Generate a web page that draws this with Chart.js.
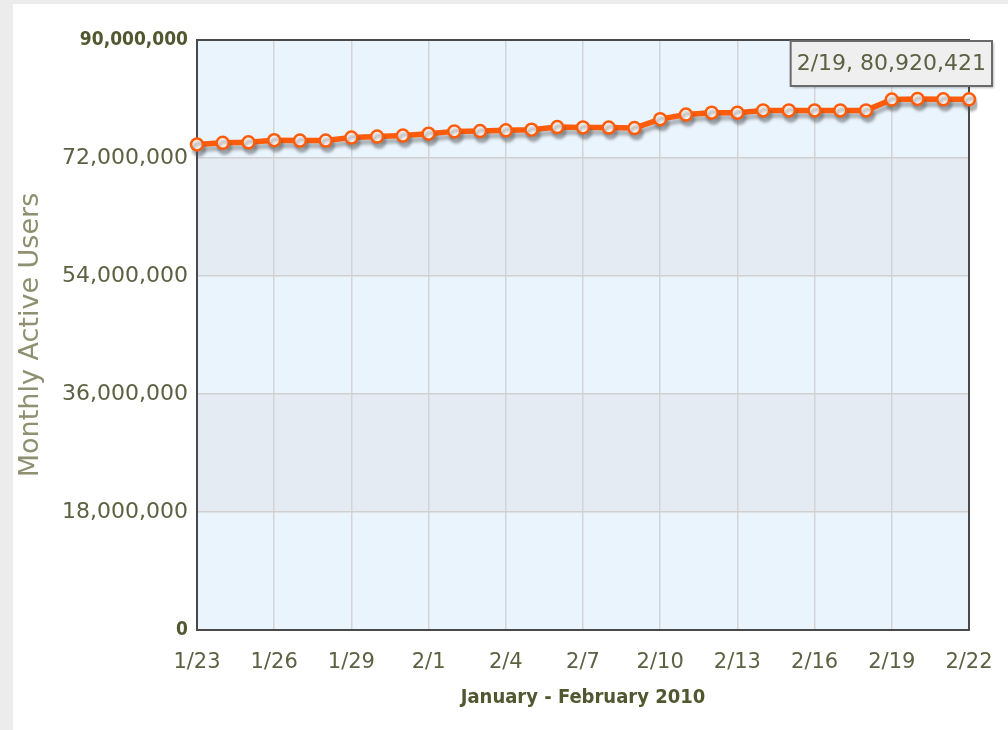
<!DOCTYPE html>
<html>
<head>
<meta charset="utf-8">
<script src="https://cdn.jsdelivr.net/npm/chart.js@4/dist/chart.umd.min.js"></script>
<style>
  body { margin: 0; background: #ececec; }
  #wrap { position: absolute; left: 13px; top: 4px; width: 995px; height: 726px; background: #fff; }
</style>
</head>
<body>
<div id="wrap"><canvas id="chart"></canvas></div>
<script>
/* datos */
const categories = ['1/23','1/24','1/25','1/26','1/27','1/28','1/29','1/30','1/31',
  '2/1','2/2','2/3','2/4','2/5','2/6','2/7','2/8','2/9','2/10','2/11','2/12',
  '2/13','2/14','2/15','2/16','2/17','2/18','2/19','2/20','2/21','2/22']
const activeUsers = [74060000, 74310000, 74390000, 74710000, 74660000, 74660000, 75120000,
  75270000, 75420000, 75700000, 76060000, 76110000, 76220000, 76310000, 76720000,
  76670000, 76640000, 76570000, 77930000, 78620000, 78920000, 78920000, 79260000,
  79260000, 79260000, 79260000, 79260000, 80920421, 81010000, 80950000, 80950000]
const xTickLabels = ['1/23','1/26','1/29','2/1','2/4','2/7','2/10','2/13','2/16','2/19','2/22']
const yTicks = [0, 18000000, 36000000, 54000000, 72000000, 90000000]
const tooltipIndex = 27

const olive = '#5d6142'
const oliveDark = '#51572f'
const naranja = '#ff5c0a'

/* franjas alternadas del fondo */
const bandas = {
  id: 'bandas',
  beforeDraw(chart) {
    const { ctx, chartArea: a, scales: { y } } = chart
    for (let i = 0; i < yTicks.length - 1; i++) {
      const top = y.getPixelForValue(yTicks[i + 1])
      const bottom = y.getPixelForValue(yTicks[i])
      ctx.fillStyle = (yTicks.length - 2 - i) % 2 === 0 ? '#eaf4fd' : '#e4ebf3'
      ctx.fillRect(a.left, top, a.right - a.left, bottom - top)
    }
  }
}

/* marco y sombra de la linea */
const marco = {
  id: 'marco',
  beforeDatasetsDraw(chart) {
    const { ctx, chartArea: a } = chart
    ctx.save()
    ctx.strokeStyle = '#4a4a4a'
    ctx.lineWidth = 2
    ctx.strokeRect(a.left, a.top, a.right - a.left, a.bottom - a.top)
    ctx.restore()
  },
  beforeDatasetDraw(chart) {
    const ctx = chart.ctx
    ctx.save()
    ctx.shadowColor = 'rgba(80,80,80,0.4)'
    ctx.shadowOffsetX = 2
    ctx.shadowOffsetY = 5
    ctx.shadowBlur = 3
  },
  afterDatasetDraw(chart) {
    chart.ctx.restore()
  }
}

/* cuadro fijo con el valor del 2/19 */
const etiqueta = {
  id: 'etiqueta',
  afterDraw(chart) {
    const { ctx, chartArea: a } = chart
    const texto = `${categories[tooltipIndex]}, ${activeUsers[tooltipIndex].toLocaleString('en-US')}`
    ctx.save()
    ctx.font = '22px "DejaVu Sans"'
    const w = ctx.measureText(texto).width + 12
    const h = 45
    const x = a.right + 23 - w
    const y = a.top + 1
    ctx.shadowColor = 'rgba(0,0,0,0.25)'
    ctx.shadowOffsetX = 2
    ctx.shadowOffsetY = 2
    ctx.shadowBlur = 2
    ctx.fillStyle = '#efefef'
    ctx.fillRect(x, y, w, h)
    ctx.shadowColor = 'transparent'
    ctx.strokeStyle = '#6a6a6a'
    ctx.lineWidth = 2
    ctx.strokeRect(x, y, w, h)
    ctx.fillStyle = olive
    ctx.textBaseline = 'middle'
    ctx.fillText(texto, x + 6, y + h / 2 + 1)
    ctx.restore()
  }
}

const data = {
  labels: categories,
  datasets: [{
    data: activeUsers,
    borderColor: naranja,
    borderWidth: 5.5,
    tension: 0,
    pointRadius: 6,
    pointBorderWidth: 2.5,
    pointBackgroundColor: '#f2efed',
    pointBorderColor: naranja
  }]
}

const config = {
  type: 'line',
  data: data,
  plugins: [bandas, marco, etiqueta],
  options: {
    responsive: true,
    maintainAspectRatio: false,
    animation: false,
    events: [],
    layout: { padding: { left: 0, right: 39, top: 36, bottom: 0 } },
    plugins: { legend: { display: false }, tooltip: { enabled: false } },
    scales: {
      x: {
        border: { display: false },
        grid: { color: '#d4d4d4', lineWidth: 1.5, drawTicks: false },
        ticks: {
          autoSkip: false,
          maxRotation: 0,
          padding: 20,
          color: olive,
          font: { family: '"DejaVu Sans"', size: 21 },
          callback: (v, i) => xTickLabels.includes(categories[i]) ? categories[i] : null
        },
        title: {
          display: true,
          text: 'January - February 2010',
          color: oliveDark,
          font: { family: '"DejaVu Sans Condensed", "DejaVu Sans"', size: 20, weight: 'bold' },
          padding: { top: 0, bottom: 20 }
        },
        afterFit: (s) => {
          s.height = 100
          s.paddingLeft = 0
          s.paddingRight = 0
        }
      },
      y: {
        min: yTicks[0],
        max: yTicks[yTicks.length - 1],
        border: { display: false },
        grid: { color: '#d0d0d0', lineWidth: 1.5, drawTicks: false },
        ticks: {
          stepSize: yTicks[1] - yTicks[0],
          padding: 9,
          color: (c) => (c.tick && (c.tick.value === yTicks[0] || c.tick.value === yTicks[yTicks.length - 1])) ? oliveDark : olive,
          font: (c) => (c.tick && (c.tick.value === yTicks[0] || c.tick.value === yTicks[yTicks.length - 1]))
            ? { family: '"DejaVu Sans Condensed", "DejaVu Sans"', size: 19, weight: 'bold' }
            : { family: '"DejaVu Sans"', size: 22 },
          callback: (v) => v.toLocaleString('en-US')
        },
        title: {
          display: true,
          text: 'Monthly Active Users',
          color: '#8e9070',
          font: { family: '"DejaVu Sans"', size: 27 },
          padding: { top: 2, bottom: 0 }
        },
        afterFit: (s) => { s.width = 184 }
      }
    }
  }
}

new Chart(document.getElementById('chart'), config)
</script>
</body>
</html>
